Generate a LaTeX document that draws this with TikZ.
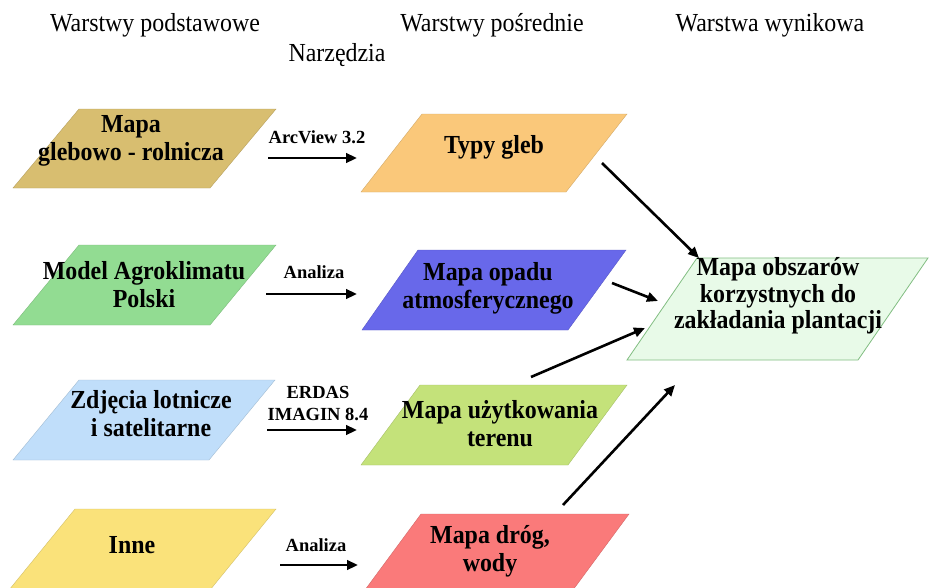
\documentclass[tikz,border=0pt]{standalone}
\usepackage{fontspec}
\setmainfont{Liberation Serif}
\newfontfamily\condfont{Liberation Serif}[FakeStretch=0.92]
\usetikzlibrary{arrows.meta}
\definecolor{cGleb}{RGB}{216,190,112}
\definecolor{cTypy}{RGB}{250,200,122}
\definecolor{cModel}{RGB}{146,220,146}
\definecolor{cOpad}{RGB}{104,104,234}
\definecolor{cZdj}{RGB}{192,222,250}
\definecolor{cUzyt}{RGB}{196,226,122}
\definecolor{cInne}{RGB}{250,226,122}
\definecolor{cDrog}{RGB}{250,122,122}
\definecolor{cWynF}{RGB}{232,250,232}
\definecolor{cWynD}{RGB}{130,190,130}
\tikzset{
  txt/.style={font=\condfont\fontsize{26}{28}\selectfont\bfseries, align=center, inner sep=0pt},
  head/.style={font=\condfont\fontsize{26}{28}\selectfont, inner sep=0pt},
  lbl/.style={font=\fontsize{18.5}{22}\selectfont\bfseries, align=center, inner sep=0pt},
  arr/.style={-{Triangle[length=11pt,width=9.5pt]}, line width=2.6pt},
  pg/.style={fill=#1, draw=#1!85!black, line width=0.4pt}
}
\begin{document}
\begin{tikzpicture}[x=1pt,y=-1pt]
\useasboundingbox (0,0) rectangle (930,587);
\clip (0,0) rectangle (930,587);
\fill[white] (0,0) rectangle (930,587);
% headings
\node[head] (h1) at (155,25) {Warstwy podstawowe};
\node[head] (h2) at (337,55) {Narzędzia};
\node[head] (h3) at (492,25) {Warstwy pośrednie};
\node[head] (h4) at (770,25) {Warstwa wynikowa};
% left column shapes
\path[pg=cGleb]  (79,109) -- (276,109) -- (210,188) -- (13,188) -- cycle;
\path[pg=cModel] (79,245) -- (276,245) -- (210,325) -- (13,325) -- cycle;
\path[pg=cZdj]   (79,380) -- (275,380) -- (209,460) -- (13,460) -- cycle;
\path[pg=cInne]  (75,509) -- (276,509) -- (210,590) -- (9,590) -- cycle;
% middle column shapes
\path[pg=cTypy]  (422,114) -- (627,114) -- (566,192) -- (361,192) -- cycle;
\path[pg=cOpad]  (418,250) -- (626,250) -- (568,330) -- (362,330) -- cycle;
\path[pg=cUzyt]  (420,385) -- (627,385) -- (568,465) -- (361,465) -- cycle;
\path[pg=cDrog]  (421,514) -- (629,514) -- (570,594) -- (362,594) -- cycle;
% result shape
\path[fill=cWynF, draw=cWynD, line width=0.8pt] (697,258) -- (928,258) -- (858,360) -- (627,360) -- cycle;
% texts
\node[txt] (a1) at (131,141) {Mapa\\glebowo - rolnicza};
\node[txt] (a2) at (144,285) {Model Agroklimatu\\Polski};
\node[txt] (a3) at (151,414) {Zdjęcia lotnicze\\i satelitarne};
\node[txt] (a4) at (132,545) {Inne};
\node[txt] (b1) at (494,147) {Typy gleb};
\node[txt] (b2) at (488,288) {Mapa opadu\\atmosferycznego};
\node[txt] (b3) at (500,424) {Mapa użytkowania\\terenu};
\node[txt] (b4) at (490,551) {Mapa dróg,\\wody};
\node[txt, font=\condfont\fontsize{26}{26.5}\selectfont\bfseries] (c) at (778,296) {Mapa obszarów\\korzystnych do\\zakładania plantacji};
% tool labels
\node[lbl] (l1) at (317,137) {ArcView 3.2};
\node[lbl] (l2) at (314,272) {Analiza};
\node[lbl] (l3) at (318,404) {ERDAS\\IMAGIN 8.4};
\node[lbl] (l4) at (316,545) {Analiza};
% arrow endpoints
\coordinate (s1) at (268,158); \coordinate (e1) at (357,158);
\coordinate (s2) at (266,294); \coordinate (e2) at (357,294);
\coordinate (s3) at (267,430); \coordinate (e3) at (357,430);
\coordinate (s4) at (280,565); \coordinate (e4) at (358,565);
\coordinate (r1s) at (602,163); \coordinate (r1e) at (699,258);
\coordinate (r2s) at (612,283); \coordinate (r2e) at (658,301);
\coordinate (r3s) at (531,377); \coordinate (r3e) at (645,328);
\coordinate (r4s) at (563,505); \coordinate (r4e) at (675,385);
\draw[arr] (s1) -- (e1);
\draw[arr] (s2) -- (e2);
\draw[arr] (s3) -- (e3);
\draw[arr] (s4) -- (e4);
\draw[arr] (r1s) -- (r1e);
\draw[arr] (r2s) -- (r2e);
\draw[arr] (r3s) -- (r3e);
\draw[arr] (r4s) -- (r4e);
\end{tikzpicture}
\end{document}
